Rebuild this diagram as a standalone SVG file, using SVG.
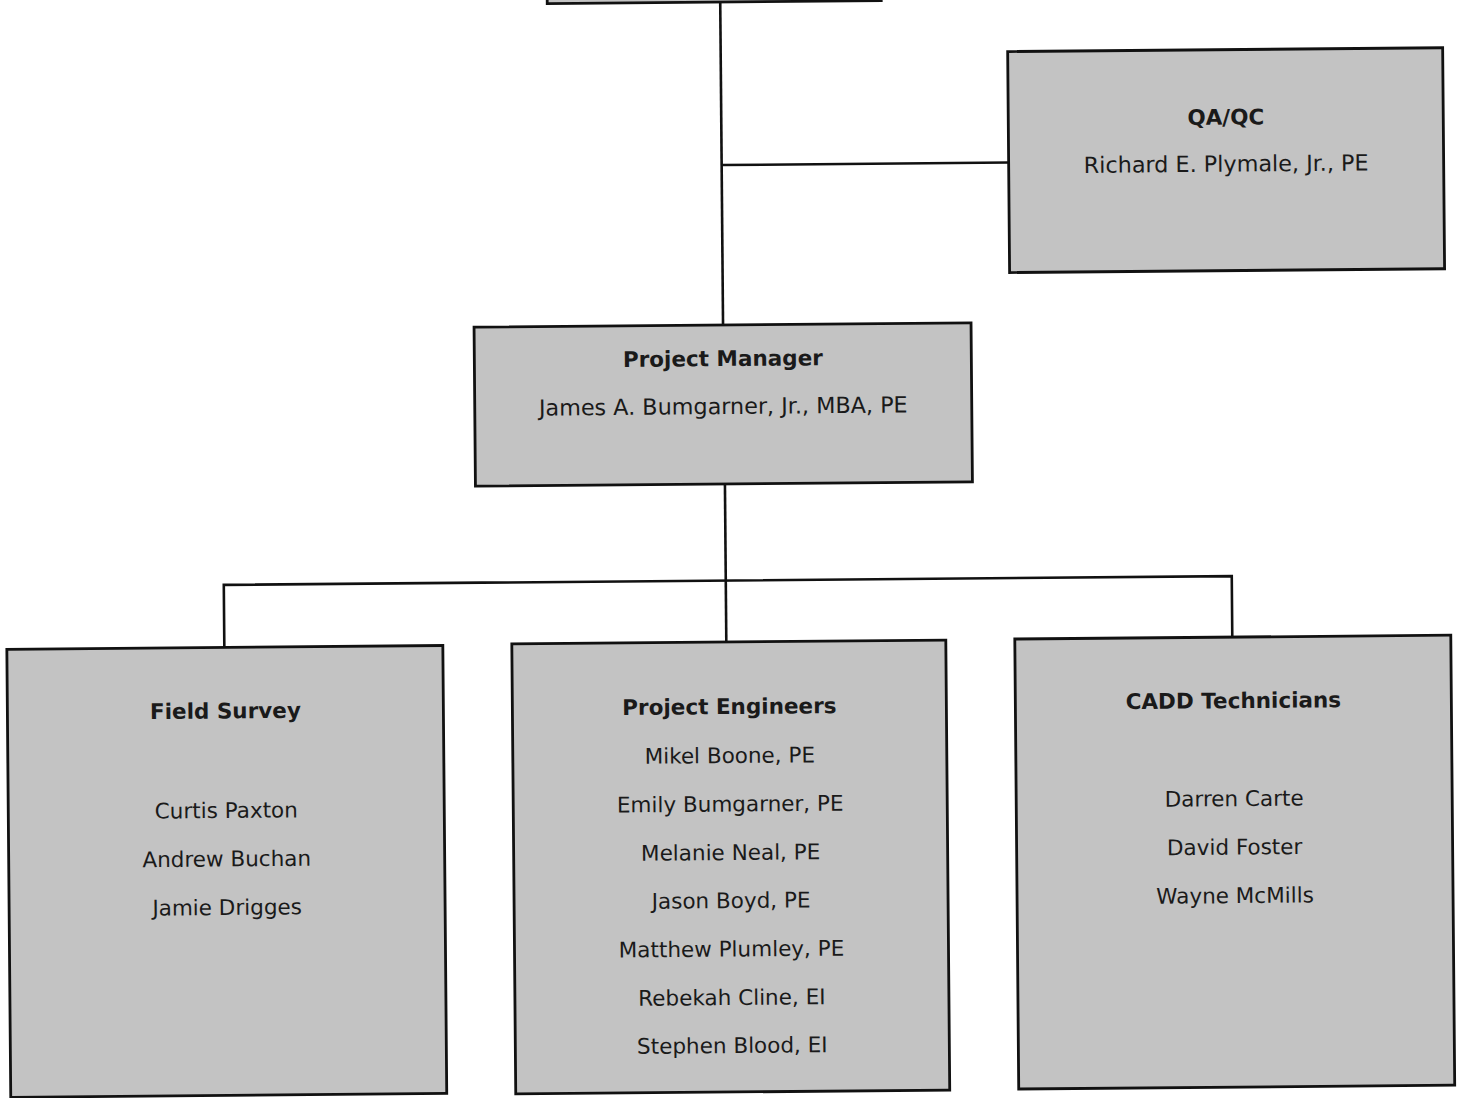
<svg xmlns="http://www.w3.org/2000/svg" width="1458" height="1098" viewBox="0 0 1458 1098">
<style>
.box{fill:#c3c3c3;stroke:#111;stroke-width:2.8}
.ln{fill:none;stroke:#111;stroke-width:2.6}
text{font-family:"DejaVu Sans","Liberation Sans",sans-serif;font-size:21.5px;fill:#1a1a1a;text-anchor:middle}
.t{font-weight:bold}
.big{font-size:22.3px}
</style>
<rect width="1458" height="1098" fill="#fff"/>
<g transform="rotate(-0.5 729 549)">
<g id="connectors">
<path class="ln" d="M725 2 V325"/>
<path class="ln" d="M725 165 H1012"/>
<path class="ln" d="M725.5 484 V642"/>
<path class="ln" d="M223.5 643 V580.5 H1231.5 V641.5"/>
</g>
<g id="top">
<rect class="box" x="552" y="-60" width="334" height="62"/>
</g>
<g id="qaqc">
<rect class="box" x="1012" y="54" width="435" height="221"/>
<text class="t" x="1229.5" y="129">QA/QC</text>
<text class="big" x="1229.5" y="176">Richard E. Plymale, Jr., PE</text>
</g>
<g id="pm">
<rect class="box" x="476" y="325" width="497" height="159"/>
<text class="t" x="724.5" y="366">Project Manager</text>
<text class="big" x="724.5" y="414">James A. Bumgarner, Jr., MBA, PE</text>
</g>
<g id="field">
<rect class="box" x="6" y="643" width="436" height="448"/>
<text class="t" x="224" y="714">Field Survey</text>
<text x="224" y="813.5">Curtis Paxton</text>
<text x="224" y="862">Andrew Buchan</text>
<text x="224" y="910.5">Jamie Drigges</text>
</g>
<g id="engineers">
<rect class="box" x="511" y="642" width="434" height="450"/>
<text class="t" x="728" y="714">Project Engineers</text>
<text x="728" y="763">Mikel Boone, PE</text>
<text x="728" y="811.5">Emily Bumgarner, PE</text>
<text x="728" y="860">Melanie Neal, PE</text>
<text x="728" y="908">Jason Boyd, PE</text>
<text x="728" y="956.5">Matthew Plumley, PE</text>
<text x="728" y="1005">Rebekah Cline, EI</text>
<text x="728" y="1053">Stephen Blood, EI</text>
</g>
<g id="cadd">
<rect class="box" x="1014" y="641.5" width="436" height="450"/>
<text class="t" x="1232" y="712.5">CADD Technicians</text>
<text x="1232" y="810.5">Darren Carte</text>
<text x="1232" y="859">David Foster</text>
<text x="1232" y="907.5">Wayne McMills</text>
</g>
</g>
</svg>
